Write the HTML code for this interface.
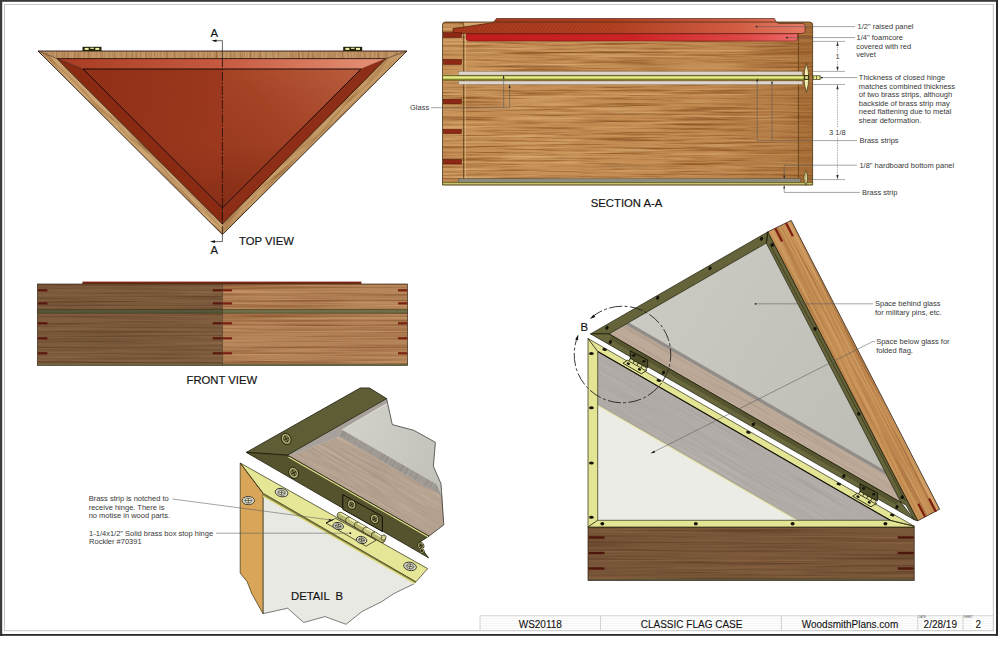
<!DOCTYPE html>
<html lang="en"><head><meta charset="utf-8"><title>Classic Flag Case - WS20118</title>
<style>
html,body{margin:0;padding:0;background:#fff;}
svg{display:block;}
text{font-family:"Liberation Sans",Arial,sans-serif;}
</style></head><body>
<svg width="1000" height="650" viewBox="0 0 1000 650">
<defs>
<linearGradient id="tvL" x1="83" y1="69" x2="222" y2="140" gradientUnits="userSpaceOnUse"><stop offset="0" stop-color="#8f2f16"/><stop offset="1" stop-color="#9e3a1f"/></linearGradient><linearGradient id="tvR" x1="222" y1="200" x2="361" y2="69" gradientUnits="userSpaceOnUse"><stop offset="0" stop-color="#97371c"/><stop offset="0.5" stop-color="#a54326"/><stop offset="1" stop-color="#ba5c3e"/></linearGradient><linearGradient id="tvT" x1="57" y1="0" x2="386" y2="0" gradientUnits="userSpaceOnUse"><stop offset="0" stop-color="#a83c22"/><stop offset="0.5" stop-color="#c65a40"/><stop offset="1" stop-color="#e59378"/></linearGradient><linearGradient id="tvD" x1="0" y1="69" x2="0" y2="208" gradientUnits="userSpaceOnUse"><stop offset="0" stop-color="#5a1406" stop-opacity="0"/><stop offset="0.55" stop-color="#5a1406" stop-opacity="0.04"/><stop offset="1" stop-color="#5a1406" stop-opacity="0.3"/></linearGradient><filter id="gV" x="0" y="0" width="100%" height="100%" color-interpolation-filters="sRGB"><feTurbulence type="fractalNoise" baseFrequency="0.5 0.02" numOctaves="3" seed="5" result="n"/><feColorMatrix in="n" type="matrix" values="0 0 0 0 0  0 0 0 0 0  0 0 0 0 0  1.8 0 0 0 -0.75" result="a"/><feFlood flood-color="#8a5a2a" result="c"/><feComposite in="c" in2="a" operator="in" result="st"/><feComposite in="st" in2="SourceGraphic" operator="atop"/></filter><filter id="gD1" x="0" y="0" width="100%" height="100%" color-interpolation-filters="sRGB"><feTurbulence type="fractalNoise" baseFrequency="0.03 0.45" numOctaves="3" seed="7" result="n"/><feColorMatrix in="n" type="matrix" values="0 0 0 0 0  0 0 0 0 0  0 0 0 0 0  1.9 0 0 0 -0.8" result="a"/><feFlood flood-color="#936232" result="c"/><feComposite in="c" in2="a" operator="in" result="st"/><feComposite in="st" in2="SourceGraphic" operator="atop"/></filter>
<filter id="gF1" x="0" y="0" width="100%" height="100%" color-interpolation-filters="sRGB"><feTurbulence type="fractalNoise" baseFrequency="0.006 0.45" numOctaves="3" seed="11" result="n"/><feColorMatrix in="n" type="matrix" values="0 0 0 0 0  0 0 0 0 0  0 0 0 0 0  1.7 0 0 0 -0.7" result="a"/><feFlood flood-color="#5a3c22" result="c"/><feComposite in="c" in2="a" operator="in" result="st"/><feColorMatrix in="n" type="matrix" values="0 0 0 0 0  0 0 0 0 0  0 0 0 0 0  0 1.5 0 0 -0.8" result="a2"/><feFlood flood-color="#a07850" result="c2"/><feComposite in="c2" in2="a2" operator="in" result="st2"/><feMerge result="m"><feMergeNode in="st"/><feMergeNode in="st2"/></feMerge><feComposite in="m" in2="SourceGraphic" operator="atop"/></filter><filter id="gF2" x="0" y="0" width="100%" height="100%" color-interpolation-filters="sRGB"><feTurbulence type="fractalNoise" baseFrequency="0.006 0.45" numOctaves="3" seed="13" result="n"/><feColorMatrix in="n" type="matrix" values="0 0 0 0 0  0 0 0 0 0  0 0 0 0 0  1.9 0 0 0 -0.75" result="a"/><feFlood flood-color="#85502c" result="c"/><feComposite in="c" in2="a" operator="in" result="st"/><feColorMatrix in="n" type="matrix" values="0 0 0 0 0  0 0 0 0 0  0 0 0 0 0  0 1.5 0 0 -0.75" result="a2"/><feFlood flood-color="#d8a878" result="c2"/><feComposite in="c2" in2="a2" operator="in" result="st2"/><feMerge result="m"><feMergeNode in="st"/><feMergeNode in="st2"/></feMerge><feComposite in="m" in2="SourceGraphic" operator="atop"/></filter>
<filter id="gS" x="0" y="0" width="100%" height="100%" color-interpolation-filters="sRGB"><feTurbulence type="fractalNoise" baseFrequency="0.012 0.5" numOctaves="3" seed="21" result="n"/><feColorMatrix in="n" type="matrix" values="0 0 0 0 0  0 0 0 0 0  0 0 0 0 0  2.3 0 0 0 -1.0" result="a"/><feFlood flood-color="#875020" result="c"/><feComposite in="c" in2="a" operator="in" result="st"/><feColorMatrix in="n" type="matrix" values="0 0 0 0 0  0 0 0 0 0  0 0 0 0 0  0 1.8 0 0 -0.85" result="a2"/><feFlood flood-color="#e2b880" result="c2"/><feComposite in="c2" in2="a2" operator="in" result="st2"/><feMerge result="m"><feMergeNode in="st"/><feMergeNode in="st2"/></feMerge><feComposite in="m" in2="SourceGraphic" operator="atop"/></filter><linearGradient id="secD" x1="442" y1="0" x2="813" y2="0" gradientUnits="userSpaceOnUse"><stop offset="0" stop-color="#f0d090" stop-opacity="0.0"/><stop offset="0.35" stop-color="#804010" stop-opacity="0"/><stop offset="0.75" stop-color="#804010" stop-opacity="0.1"/><stop offset="1" stop-color="#703408" stop-opacity="0.28"/></linearGradient><linearGradient id="rp" x1="453" y1="0" x2="805" y2="0" gradientUnits="userSpaceOnUse"><stop offset="0" stop-color="#a03418"/><stop offset="0.45" stop-color="#ac3a1c"/><stop offset="0.8" stop-color="#d05a40"/><stop offset="1" stop-color="#e67a66"/></linearGradient><linearGradient id="vel" x1="466" y1="0" x2="798" y2="0" gradientUnits="userSpaceOnUse"><stop offset="0" stop-color="#c01c1c"/><stop offset="0.5" stop-color="#cc2424"/><stop offset="0.85" stop-color="#e04848"/><stop offset="1" stop-color="#ee6a6a"/></linearGradient><pattern id="hatR" width="3" height="3" patternUnits="userSpaceOnUse" patternTransform="rotate(-55)"><line x1="0" y1="1.5" x2="3" y2="1.5" stroke="#d87858" stroke-width="0.5" stroke-opacity="0.35"/></pattern><pattern id="hatW" width="2.4" height="2.4" patternUnits="userSpaceOnUse" patternTransform="rotate(45)"><line x1="0" y1="1.2" x2="2.4" y2="1.2" stroke="#7a4a1e" stroke-width="0.45" stroke-opacity="0.55"/></pattern><pattern id="hatG" width="2" height="2" patternUnits="userSpaceOnUse" patternTransform="rotate(-45)"><line x1="0" y1="1" x2="2" y2="1" stroke="#b0a090" stroke-width="0.5"/></pattern>
<filter id="gDW" x="0" y="0" width="100%" height="100%" color-interpolation-filters="sRGB"><feTurbulence type="fractalNoise" baseFrequency="0.02 0.5" numOctaves="2" seed="4" result="n"/><feColorMatrix in="n" type="matrix" values="0 0 0 0 0  0 0 0 0 0  0 0 0 0 0  1.6 0 0 0 -0.75" result="a"/><feFlood flood-color="#98877a" result="c"/><feComposite in="c" in2="a" operator="in" result="st"/><feColorMatrix in="n" type="matrix" values="0 0 0 0 0  0 0 0 0 0  0 0 0 0 0  0 1.4 0 0 -0.7" result="a2"/><feFlood flood-color="#d2bca8" result="c2"/><feComposite in="c2" in2="a2" operator="in" result="st2"/><feMerge result="m"><feMergeNode in="st"/><feMergeNode in="st2"/></feMerge><feComposite in="m" in2="SourceGraphic" operator="atop"/></filter><filter id="gDG" x="0" y="0" width="100%" height="100%" color-interpolation-filters="sRGB"><feTurbulence type="fractalNoise" baseFrequency="0.6 0.02" numOctaves="2" seed="9" result="n"/><feColorMatrix in="n" type="matrix" values="0 0 0 0 0  0 0 0 0 0  0 0 0 0 0  1.6 0 0 0 -0.75" result="a"/><feFlood flood-color="#7e7872" result="c"/><feComposite in="c" in2="a" operator="in" result="st"/><feComposite in="st" in2="SourceGraphic" operator="atop"/></filter><linearGradient id="glassD" x1="340" y1="430" x2="440" y2="470" gradientUnits="userSpaceOnUse"><stop offset="0" stop-color="#d2d2cb"/><stop offset="1" stop-color="#c2c2ba"/></linearGradient>
<filter id="gIB" x="0" y="0" width="100%" height="100%" color-interpolation-filters="sRGB"><feTurbulence type="fractalNoise" baseFrequency="0.006 0.5" numOctaves="3" seed="31" result="n"/><feColorMatrix in="n" type="matrix" values="0 0 0 0 0  0 0 0 0 0  0 0 0 0 0  1.7 0 0 0 -0.72" result="a"/><feFlood flood-color="#553820" result="c"/><feComposite in="c" in2="a" operator="in" result="st"/><feColorMatrix in="n" type="matrix" values="0 0 0 0 0  0 0 0 0 0  0 0 0 0 0  0 1.5 0 0 -0.8" result="a2"/><feFlood flood-color="#9a7048" result="c2"/><feComposite in="c2" in2="a2" operator="in" result="st2"/><feMerge result="m"><feMergeNode in="st"/><feMergeNode in="st2"/></feMerge><feComposite in="m" in2="SourceGraphic" operator="atop"/></filter><filter id="gIL" x="0" y="0" width="100%" height="100%" color-interpolation-filters="sRGB"><feTurbulence type="fractalNoise" baseFrequency="0.006 0.45" numOctaves="3" seed="33" result="n"/><feColorMatrix in="n" type="matrix" values="0 0 0 0 0  0 0 0 0 0  0 0 0 0 0  2.0 0 0 0 -0.85" result="a"/><feFlood flood-color="#8e5426" result="c"/><feComposite in="c" in2="a" operator="in" result="st"/><feColorMatrix in="n" type="matrix" values="0 0 0 0 0  0 0 0 0 0  0 0 0 0 0  0 1.6 0 0 -0.75" result="a2"/><feFlood flood-color="#e4b880" result="c2"/><feComposite in="c2" in2="a2" operator="in" result="st2"/><feMerge result="m"><feMergeNode in="st"/><feMergeNode in="st2"/></feMerge><feComposite in="m" in2="SourceGraphic" operator="atop"/></filter><filter id="gIP" x="0" y="0" width="100%" height="100%" color-interpolation-filters="sRGB"><feTurbulence type="fractalNoise" baseFrequency="0.01 0.5" numOctaves="2" seed="35" result="n"/><feColorMatrix in="n" type="matrix" values="0 0 0 0 0  0 0 0 0 0  0 0 0 0 0  1.4 0 0 0 -0.75" result="a"/><feFlood flood-color="#98928e" result="c"/><feComposite in="c" in2="a" operator="in" result="st"/><feColorMatrix in="n" type="matrix" values="0 0 0 0 0  0 0 0 0 0  0 0 0 0 0  0 1.4 0 0 -0.75" result="a2"/><feFlood flood-color="#c8c4c0" result="c2"/><feComposite in="c2" in2="a2" operator="in" result="st2"/><feMerge result="m"><feMergeNode in="st"/><feMergeNode in="st2"/></feMerge><feComposite in="m" in2="SourceGraphic" operator="atop"/></filter><filter id="gIW" x="0" y="0" width="100%" height="100%" color-interpolation-filters="sRGB"><feTurbulence type="fractalNoise" baseFrequency="0.01 0.5" numOctaves="2" seed="37" result="n"/><feColorMatrix in="n" type="matrix" values="0 0 0 0 0  0 0 0 0 0  0 0 0 0 0  1.5 0 0 0 -0.75" result="a"/><feFlood flood-color="#9c8674" result="c"/><feComposite in="c" in2="a" operator="in" result="st"/><feComposite in="st" in2="SourceGraphic" operator="atop"/></filter><linearGradient id="glassI" x1="640" y1="320" x2="860" y2="460" gradientUnits="userSpaceOnUse"><stop offset="0" stop-color="#cacac3"/><stop offset="1" stop-color="#bebeb6"/></linearGradient>
</defs>
<rect x="4.5" y="4.5" width="988.8" height="626.2" fill="none" stroke="#c6c6c6" stroke-width="1.0"/>
<rect x="0.0" y="0.0" width="2.2" height="635.8" fill="#3a3a3a"/>
<rect x="0.0" y="0.0" width="998.0" height="1.8" fill="#3a3a3a"/>
<rect x="996.0" y="0.0" width="2.0" height="635.8" fill="#2a2a2a"/>
<rect x="0.0" y="634.0" width="998.0" height="1.8" fill="#2a2a2a"/>
<g filter="url(#gV)"><polygon points="38.0,51.0 407.0,51.0 386.0,58.6 57.0,58.6" fill="#c4986a"/></g>
<clipPath id="cpTL"><polygon points="38.0,51.0 57.0,58.6 222.4,224.0 222.4,234.6"/></clipPath><clipPath id="cpTR"><polygon points="407.0,51.0 386.0,58.6 222.4,224.0 222.4,234.6"/></clipPath>
<g clip-path="url(#cpTL)"><g transform="rotate(45 38 51)" filter="url(#gD1)"><rect x="30" y="36" width="280" height="17" fill="#cda571"/></g></g>
<g clip-path="url(#cpTR)"><g transform="rotate(135 407 51)" filter="url(#gD1)"><rect x="399" y="49" width="280" height="17" fill="#c69c68"/></g></g>
<polygon points="57.0,58.6 386.0,58.6 361.0,69.0 83.0,69.0" fill="url(#tvT)"/>
<polygon points="57.0,58.6 83.0,69.0 222.4,208.0 222.4,224.0" fill="#8a2a13"/>
<polygon points="386.0,58.6 361.0,69.0 222.4,208.0 222.4,224.0" fill="#8f2e16"/>
<polygon points="83.0,69.0 361.0,69.0 222.4,208.0" fill="#9c391e"/>
<polygon points="83.0,69.0 222.4,69.0 222.4,208.0" fill="url(#tvL)"/>
<polygon points="222.4,69.0 361.0,69.0 222.4,208.0" fill="url(#tvR)"/>
<polygon points="83.0,69.0 361.0,69.0 222.4,208.0" fill="url(#tvD)"/>
<polygon points="38.0,51.0 407.0,51.0 222.4,234.6" fill="none" stroke="#2a1a10" stroke-width="0.9" stroke-linejoin="round"/>
<polygon points="57.0,58.6 386.0,58.6 222.4,224.0" fill="none" stroke="#2a0e06" stroke-width="0.9" stroke-linejoin="round"/>
<polygon points="83.0,69.0 361.0,69.0 222.4,208.0" fill="none" stroke="#1a0a06" stroke-width="1.0" stroke-linejoin="round"/>
<line x1="38.0" y1="51.0" x2="57.0" y2="58.6" stroke="#3a2010" stroke-width="0.6"/>
<line x1="407.0" y1="51.0" x2="386.0" y2="58.6" stroke="#3a2010" stroke-width="0.6"/>
<line x1="57.0" y1="58.6" x2="83.0" y2="69.0" stroke="#3a1408" stroke-width="0.6"/>
<line x1="386.0" y1="58.6" x2="361.0" y2="69.0" stroke="#7a2a14" stroke-width="0.6"/>
<line x1="222.4" y1="208.0" x2="222.4" y2="224.0" stroke="#3a1408" stroke-width="0.6"/>
<rect x="82.5" y="46.8" width="19.0" height="4.2" fill="#20220a"/>
<rect x="84.7" y="47.9" width="4.0" height="2.0" fill="#f4f2a8"/>
<rect x="90.3" y="47.7" width="3.6" height="1.2" fill="#f4f2a8"/>
<rect x="95.3" y="47.9" width="4.0" height="2.0" fill="#f4f2a8"/>
<rect x="343.2" y="46.8" width="19.0" height="4.2" fill="#20220a"/>
<rect x="345.4" y="47.9" width="4.0" height="2.0" fill="#f4f2a8"/>
<rect x="351.0" y="47.7" width="3.6" height="1.2" fill="#f4f2a8"/>
<rect x="356.0" y="47.9" width="4.0" height="2.0" fill="#f4f2a8"/>
<path d="M213,40.7 H222.4 V58" fill="none" stroke="#222" stroke-width="0.7"/>
<path d="M222.4,58 V234" fill="none" stroke="#1e0a06" stroke-width="0.8" stroke-dasharray="9 1.5 2 1.5"/>
<polygon points="211.5,40.7 216.5,39.4 216.5,42.0" fill="#111"/>
<path d="M222.4,234.6 V241.6 H212" fill="none" stroke="#222" stroke-width="0.7"/>
<polygon points="210.0,241.6 215.0,240.3 215.0,242.9" fill="#111"/>
<text x="214.2" y="36.6" font-size="11.3" fill="#111" text-anchor="middle" style="white-space:pre" stroke="#111" stroke-width="0.15">A</text>
<text x="214.2" y="254.0" font-size="11.3" fill="#111" text-anchor="middle" style="white-space:pre" stroke="#111" stroke-width="0.15">A</text>
<text x="239.0" y="244.6" font-size="11.3" fill="#111" text-anchor="start" style="white-space:pre" stroke="#111" stroke-width="0.15">TOP VIEW</text>
<rect x="82.4" y="281.6" width="279.0" height="2.6" fill="#7a2412"/>
<g filter="url(#gF1)"><rect x="37.4" y="284.0" width="185.1" height="81.3" fill="#7e5c3e"/></g>
<g filter="url(#gF2)"><rect x="222.5" y="284.0" width="185.1" height="81.3" fill="#b58458"/></g>
<rect x="37.4" y="309.7" width="185.1" height="3.4" fill="#56573a"/>
<rect x="222.5" y="309.7" width="185.1" height="3.4" fill="#70714a"/>
<line x1="37.4" y1="309.6" x2="407.6" y2="309.6" stroke="#3a3418" stroke-width="0.6"/>
<line x1="37.4" y1="313.2" x2="407.6" y2="313.2" stroke="#3a3418" stroke-width="0.6"/>
<rect x="37.4" y="363.8" width="370.2" height="1.5" fill="#6a6a44"/>
<rect x="37.9" y="289.2" width="9.5" height="2.2" fill="#5a1810"/>
<rect x="212.7" y="289.2" width="9.8" height="2.2" fill="#5a1810"/>
<rect x="222.5" y="289.2" width="9.6" height="2.2" fill="#7a2012"/>
<rect x="398.0" y="289.2" width="9.2" height="2.2" fill="#7a2012"/>
<rect x="37.9" y="302.3" width="9.5" height="2.2" fill="#5a1810"/>
<rect x="212.7" y="302.3" width="9.8" height="2.2" fill="#5a1810"/>
<rect x="222.5" y="302.3" width="9.6" height="2.2" fill="#7a2012"/>
<rect x="398.0" y="302.3" width="9.2" height="2.2" fill="#7a2012"/>
<rect x="37.9" y="322.2" width="9.5" height="2.2" fill="#5a1810"/>
<rect x="212.7" y="322.2" width="9.8" height="2.2" fill="#5a1810"/>
<rect x="222.5" y="322.2" width="9.6" height="2.2" fill="#7a2012"/>
<rect x="398.0" y="322.2" width="9.2" height="2.2" fill="#7a2012"/>
<rect x="37.9" y="337.2" width="9.5" height="2.2" fill="#5a1810"/>
<rect x="212.7" y="337.2" width="9.8" height="2.2" fill="#5a1810"/>
<rect x="222.5" y="337.2" width="9.6" height="2.2" fill="#7a2012"/>
<rect x="398.0" y="337.2" width="9.2" height="2.2" fill="#7a2012"/>
<rect x="37.9" y="352.2" width="9.5" height="2.2" fill="#5a1810"/>
<rect x="212.7" y="352.2" width="9.8" height="2.2" fill="#5a1810"/>
<rect x="222.5" y="352.2" width="9.6" height="2.2" fill="#7a2012"/>
<rect x="398.0" y="352.2" width="9.2" height="2.2" fill="#7a2012"/>
<rect x="37.4" y="284.0" width="370.2" height="81.3" fill="none" stroke="#3a2a1a" stroke-width="0.7"/>
<line x1="222.5" y1="284.0" x2="222.5" y2="365.3" stroke="#4a3420" stroke-width="0.7"/>
<text x="186.5" y="384.2" font-size="11.3" fill="#111" text-anchor="start" style="white-space:pre" stroke="#111" stroke-width="0.15">FRONT VIEW</text>
<g filter="url(#gS)"><path d="M442.5,185.0 V25.0 Q442.5,22.0 445.5,22.0 H809.6 Q812.6,22.0 812.6,25.0 V185.0 Z" fill="#c68f55"/></g>
<path d="M442.5,185.0 V25.0 Q442.5,22.0 445.5,22.0 H809.6 Q812.6,22.0 812.6,25.0 V185.0 Z" fill="url(#secD)"/>
<rect x="442.5" y="23.0" width="20.5" height="162.0" fill="#d8a870" stroke="none" stroke-width="0" fill-opacity="0.15"/>
<rect x="798.6" y="23.0" width="14.0" height="162.0" fill="#a86a30" stroke="none" stroke-width="0" fill-opacity="0.3"/>
<rect x="798.6" y="23.0" width="14.0" height="162.0" fill="url(#hatW)"/>
<polygon points="464.0,22.6 492.0,22.6 492.5,22.6 464.0,27.2" fill="#d6aa72"/>
<path d="M459.5,22.3 Q463.6,22.6 464.2,27" fill="none" stroke="#5a3a12" stroke-width="0.7"/>
<polygon points="453.0,28.6 464.0,27.0 491.0,22.9 493.5,22.2 496.5,18.5 774.5,18.5 776.0,21.8 778.5,23.4 803.0,23.4 805.2,25.4 805.2,31.6 803.0,33.5 454.5,33.5 453.0,32.0" fill="url(#rp)"/>
<polygon points="453.0,28.6 464.0,27.0 491.0,22.9 493.5,22.2 496.5,18.5 774.5,18.5 776.0,21.8 778.5,23.4 803.0,23.4 805.2,25.4 805.2,31.6 803.0,33.5 454.5,33.5 453.0,32.0" fill="url(#hatR)" stroke="#3a1408" stroke-width="0.6" stroke-linejoin="round"/>
<path d="M466,33.8 H797.6 V38 Q797.6,41 794.6,41 H469.5 Q466,41 466,37.5 Z" fill="url(#vel)" stroke="#6a1010" stroke-width="0.5"/>
<line x1="463.8" y1="33.5" x2="463.8" y2="183.0" stroke="#5a3a12" stroke-width="1.0"/>
<line x1="465.2" y1="33.5" x2="465.2" y2="183.0" stroke="#e8c890" stroke-width="0.7"/>
<line x1="798.4" y1="33.5" x2="798.4" y2="183.0" stroke="#5a3a12" stroke-width="0.8"/>
<rect x="458.5" y="71.4" width="344.0" height="4.0" fill="#ece6e0" stroke="#6a5a40" stroke-width="0.4"/>
<rect x="458.5" y="71.4" width="344.0" height="4.0" fill="url(#hatG)"/>
<rect x="442.8" y="75.4" width="363.0" height="4.8" fill="#8a9026"/>
<rect x="442.8" y="76.3" width="363.0" height="2.3" fill="#e9e98e"/>
<line x1="442.8" y1="75.4" x2="806.0" y2="75.4" stroke="#3a3a10" stroke-width="0.5"/>
<line x1="442.8" y1="80.2" x2="806.0" y2="80.2" stroke="#3a3a10" stroke-width="0.5"/>
<rect x="458.5" y="81.0" width="344.0" height="3.5" fill="#ece6e0" stroke="#6a5a40" stroke-width="0.4"/>
<rect x="458.5" y="81.0" width="344.0" height="3.5" fill="url(#hatG)"/>
<rect x="458.5" y="178.6" width="342.0" height="3.9" fill="#8c8a7c" stroke="#4a4a3a" stroke-width="0.4"/>
<rect x="442.5" y="182.5" width="370.1" height="2.7" fill="#aaa64a"/>
<line x1="442.5" y1="182.5" x2="812.6" y2="182.5" stroke="#4a4a1a" stroke-width="0.5"/>
<line x1="442.5" y1="183.8" x2="812.6" y2="183.8" stroke="#ece890" stroke-width="0.6"/>
<rect x="443.4" y="32.6" width="18.0" height="4.6" fill="#8e2814" stroke="#50120a" stroke-width="0.5"/>
<rect x="443.4" y="59.6" width="18.0" height="4.8" fill="#8e2814" stroke="#50120a" stroke-width="0.5"/>
<rect x="443.4" y="99.2" width="18.0" height="4.4" fill="#8e2814" stroke="#50120a" stroke-width="0.5"/>
<rect x="443.4" y="129.4" width="18.0" height="4.2" fill="#8e2814" stroke="#50120a" stroke-width="0.5"/>
<rect x="443.4" y="159.6" width="18.0" height="4.4" fill="#8e2814" stroke="#50120a" stroke-width="0.5"/>
<path d="M442.5,185.0 V25.0 Q442.5,22.0 445.5,22.0 H809.6 Q812.6,22.0 812.6,25.0 V185.0 Z" fill="none" stroke="#4a3418" stroke-width="0.8"/>
<path d="M806.4,63.4 Q811.2,77.8 806.4,92.2 Q801.6,77.8 806.4,63.4 Z" fill="#f2ecb0" stroke="#2a2a0a" stroke-width="0.6"/>
<rect x="804.0" y="75.0" width="5.0" height="5.0" fill="#3a3a12"/>
<rect x="805.0" y="76.2" width="3.0" height="2.6" fill="#d8d488"/>
<rect x="812.6" y="75.4" width="8.0" height="4.4" fill="#4a4a1a"/>
<rect x="813.6" y="76.2" width="2.6" height="2.8" fill="#eeea90"/>
<rect x="817.0" y="76.2" width="2.6" height="2.8" fill="#eeea90"/>
<path d="M805.8,170.6 Q809.4,178.0 805.8,185.4 Q802.2,178.0 805.8,170.6 Z" fill="#f2ecb0" stroke="#2a2a0a" stroke-width="0.6"/>
<line x1="805.8" y1="173.0" x2="805.8" y2="184.0" stroke="#5a5a20" stroke-width="0.5"/>
<line x1="813.0" y1="41.4" x2="845.0" y2="41.4" stroke="#5a5a5a" stroke-width="0.5"/>
<line x1="813.0" y1="71.4" x2="845.0" y2="71.4" stroke="#5a5a5a" stroke-width="0.5"/>
<line x1="813.0" y1="84.5" x2="845.0" y2="84.5" stroke="#5a5a5a" stroke-width="0.5"/>
<line x1="808.0" y1="179.6" x2="845.0" y2="179.6" stroke="#5a5a5a" stroke-width="0.5"/>
<line x1="837.5" y1="42.0" x2="837.5" y2="71.0" stroke="#5a5a5a" stroke-width="0.5" stroke-dasharray="1.4 1"/>
<line x1="837.5" y1="85.0" x2="837.5" y2="179.0" stroke="#5a5a5a" stroke-width="0.5" stroke-dasharray="1.4 1"/>
<polygon points="837.5,41.6 836.3,46.1 838.7,46.1" fill="#333"/>
<polygon points="837.5,71.2 836.3,66.7 838.7,66.7" fill="#333"/>
<polygon points="837.5,84.7 836.3,89.2 838.7,89.2" fill="#333"/>
<polygon points="837.5,179.4 836.3,174.9 838.7,174.9" fill="#333"/>
<rect x="833.0" y="52.5" width="9.0" height="8.5" fill="#fff"/>
<text x="837.5" y="59.3" font-size="7.5" fill="#3a3a3a" text-anchor="middle" style="white-space:pre">1</text>
<rect x="826.0" y="127.0" width="23.0" height="9.5" fill="#fff"/>
<text x="837.3" y="134.8" font-size="7.5" fill="#3a3a3a" text-anchor="middle" style="white-space:pre">3 1/8</text>
<line x1="756.5" y1="26.6" x2="855.0" y2="26.6" stroke="#5a5a5a" stroke-width="0.55"/>
<circle cx="756.5" cy="26.6" r="0.9" fill="#222"/>
<text x="857.5" y="29.3" font-size="7.5" fill="#383838" text-anchor="start" style="white-space:pre">1/2" raised panel</text>
<line x1="787.0" y1="37.6" x2="855.0" y2="37.6" stroke="#5a5a5a" stroke-width="0.55"/>
<circle cx="787" cy="37.6" r="0.9" fill="#222"/>
<text x="856.6" y="40.2" font-size="7.5" fill="#383838" text-anchor="start" style="white-space:pre">1/4" foamcore</text>
<text x="856.2" y="48.6" font-size="7.5" fill="#383838" text-anchor="start" style="white-space:pre">covered with red</text>
<text x="856.2" y="57.0" font-size="7.5" fill="#383838" text-anchor="start" style="white-space:pre">velvet</text>
<line x1="821.5" y1="77.6" x2="857.0" y2="77.6" stroke="#5a5a5a" stroke-width="0.55"/>
<circle cx="821.8" cy="77.6" r="0.9" fill="#222"/>
<text x="858.8" y="80.1" font-size="7.5" fill="#383838" text-anchor="start" style="white-space:pre">Thickness of closed hinge</text>
<text x="858.8" y="88.6" font-size="7.5" fill="#383838" text-anchor="start" style="white-space:pre">matches combined thickness</text>
<text x="858.8" y="97.2" font-size="7.5" fill="#383838" text-anchor="start" style="white-space:pre">of two brass strips, although</text>
<text x="858.8" y="105.8" font-size="7.5" fill="#383838" text-anchor="start" style="white-space:pre">backside of brass strip may</text>
<text x="858.8" y="114.3" font-size="7.5" fill="#383838" text-anchor="start" style="white-space:pre">need flattening due to metal</text>
<text x="858.8" y="122.8" font-size="7.5" fill="#383838" text-anchor="start" style="white-space:pre">shear deformation.</text>
<path d="M757.2,79 V140.6 H857" fill="none" stroke="#5a5a5a" stroke-width="0.55"/>
<path d="M772,81.5 V140.6" fill="none" stroke="#5a5a5a" stroke-width="0.55"/>
<polygon points="757.2,78.0 756.3,81.5 758.1,81.5" fill="#222"/>
<polygon points="772.0,80.4 771.1,83.8 772.9,83.8" fill="#222"/>
<text x="859.4" y="143.3" font-size="7.5" fill="#383838" text-anchor="start" style="white-space:pre">Brass strips</text>
<path d="M784.2,178.6 V165.2 H857" fill="none" stroke="#5a5a5a" stroke-width="0.55"/>
<polygon points="784.2,178.8 783.3,175.4 785.1,175.4" fill="#222"/>
<text x="859.4" y="167.9" font-size="7.5" fill="#383838" text-anchor="start" style="white-space:pre">1/8" hardboard bottom panel</text>
<path d="M784.2,185.4 V192.4 H860" fill="none" stroke="#5a5a5a" stroke-width="0.55"/>
<polygon points="784.2,185.2 783.3,188.6 785.1,188.6" fill="#222"/>
<text x="862.0" y="195.0" font-size="7.5" fill="#383838" text-anchor="start" style="white-space:pre">Brass strip</text>
<path d="M431,107.7 H509.6 V85" fill="none" stroke="#5a5a5a" stroke-width="0.55"/>
<path d="M503.6,107.7 V76" fill="none" stroke="#5a5a5a" stroke-width="0.55"/>
<polygon points="503.6,75.0 502.7,78.4 504.5,78.4" fill="#222"/>
<polygon points="509.6,84.6 508.7,88.0 510.5,88.0" fill="#222"/>
<text x="410.0" y="110.4" font-size="7.5" fill="#383838" text-anchor="start" style="white-space:pre">Glass</text>
<text x="590.8" y="206.6" font-size="11.3" fill="#111" text-anchor="start" style="white-space:pre" stroke="#111" stroke-width="0.15">SECTION A-A</text>
<clipPath id="cpW"><polygon points="287.3,455.2 290.5,455.6 339.2,436.6 442.2,496.1 443.8,524.8 428.9,536.2"/></clipPath>
<polygon points="287.3,455.2 386.6,398.6 392.3,424.6 413.8,430.3 435.4,442.3 433.4,466.2 441.0,483.8 443.8,524.8 428.9,536.2" fill="url(#glassD)"/>
<g clip-path="url(#cpW)"><g transform="rotate(30 287 455)" filter="url(#gDW)"><rect x="270" y="380" width="230" height="90" fill="#b6a290"/></g></g>
<clipPath id="cpG"><polygon points="342.0,429.7 436.5,484.3 441.7,495.8 339.2,436.6"/></clipPath>
<g clip-path="url(#cpG)"><g transform="rotate(30 342 430)" filter="url(#gDG)"><rect x="320" y="410" width="180" height="50" fill="#a29c96"/></g></g>
<polygon points="287.3,455.2 386.6,398.6 387.4,402.6 342.0,429.7 339.2,436.6 290.5,455.6" fill="#a8a09a"/>
<line x1="342.0" y1="429.7" x2="385.6" y2="404.5" stroke="#e4e4de" stroke-width="0.6"/>
<polyline points="386.6,398.6 392.3,424.6 413.8,430.3 435.4,442.3 433.4,466.2 441.0,483.8 443.8,524.8 428.9,536.2" fill="none" stroke="#2a2a2a" stroke-width="0.7"/>
<polygon points="246.3,452.4 360.3,387.9 369.5,388.0 386.6,398.6 287.3,455.2" fill="#5f5d35" stroke="#1a1a08" stroke-width="0.8" stroke-linejoin="round"/>
<polygon points="246.3,452.4 287.3,455.2 428.9,536.2 417.6,543.4 428.6,557.8" fill="#55532e" stroke="#1a1a08" stroke-width="0.8" stroke-linejoin="round"/>
<line x1="288.6" y1="456.8" x2="428.0" y2="536.6" stroke="#e6e690" stroke-width="1.5"/>
<line x1="287.3" y1="455.2" x2="428.9" y2="536.2" stroke="#1a1a08" stroke-width="0.7"/>
<g transform="translate(286.2 438.9) rotate(62)"><ellipse rx="5.9" ry="4.7" fill="#8f8c56" stroke="#1e1e0a" stroke-width="0.8"/><ellipse rx="4.2" ry="3.4" fill="none" stroke="#c4c28a" stroke-width="0.9"/><ellipse rx="3.2" ry="2.6" fill="none" stroke="#1e1e0a" stroke-width="0.5"/><path d="M-3.5,0 H3.5 M0,-2.8 V2.8" stroke="#2a2a10" stroke-width="0.9"/></g>
<g transform="translate(293.6 472.8) rotate(62)"><ellipse rx="5.9" ry="4.7" fill="#8f8c56" stroke="#1e1e0a" stroke-width="0.8"/><ellipse rx="4.2" ry="3.4" fill="none" stroke="#c4c28a" stroke-width="0.9"/><ellipse rx="3.2" ry="2.6" fill="none" stroke="#1e1e0a" stroke-width="0.5"/><path d="M-3.5,0 H3.5 M0,-2.8 V2.8" stroke="#2a2a10" stroke-width="0.9"/></g>
<g transform="translate(420.8 545.6) rotate(62)"><ellipse rx="3.6" ry="3.0" fill="#8f8c56" stroke="#1e1e0a" stroke-width="0.8"/><ellipse rx="2.6" ry="2.2" fill="none" stroke="#c4c28a" stroke-width="0.9"/><ellipse rx="2.0" ry="1.7" fill="none" stroke="#1e1e0a" stroke-width="0.5"/><path d="M-2.2,0 H2.2 M0,-1.8 V1.8" stroke="#2a2a10" stroke-width="0.9"/></g>
<g transform="translate(421.8 550.8) rotate(62)"><ellipse rx="2.8" ry="2.2" fill="#8f8c56" stroke="#1e1e0a" stroke-width="0.8"/><ellipse rx="2.0" ry="1.6" fill="none" stroke="#c4c28a" stroke-width="0.9"/><ellipse rx="1.5" ry="1.2" fill="none" stroke="#1e1e0a" stroke-width="0.5"/><path d="M-1.7,0 H1.7 M0,-1.3 V1.3" stroke="#2a2a10" stroke-width="0.9"/></g>
<polygon points="263.0,493.2 416.0,581.8 413.7,584.0 394.0,593.5 381.8,601.6 362.0,611.5 346.0,624.3 325.0,616.6 303.7,622.5 287.6,608.2 263.0,613.7" fill="#e9e9e3" stroke="#2a2a2a" stroke-width="0.6" stroke-linejoin="round"/>
<polygon points="240.2,463.0 263.0,493.2 263.0,613.7 252.0,594.0 247.2,581.8 240.2,573.0" fill="#d9a659" stroke="#3a3010" stroke-width="0.7" stroke-linejoin="round"/>
<polygon points="263.0,493.2 416.0,581.8 414.6,583.6 263.0,496.2" fill="#8a8840"/>
<polygon points="263.0,495.4 415.2,583.0 414.4,584.2 263.0,497.0" fill="#e2e08e"/>
<polygon points="240.2,463.0 427.6,568.6 416.0,581.8 263.0,493.2" fill="#e6e697" stroke="#2a2a10" stroke-width="0.7" stroke-linejoin="round"/>
<line x1="240.2" y1="463.0" x2="263.0" y2="493.2" stroke="#3a3010" stroke-width="0.6"/>
<polygon points="326.0,523.0 335.6,518.4 376.2,540.2 366.0,546.2" fill="#eaea9e" stroke="#1a1a08" stroke-width="0.7" stroke-linejoin="round"/>
<polygon points="342.8,494.6 382.4,516.4 382.4,531.6 342.8,509.4" fill="#55532e" stroke="#0a0a04" stroke-width="0.9" stroke-linejoin="round"/>
<line x1="340.2" y1="515.2" x2="347.9" y2="519.7" stroke="#2a2a10" stroke-width="6.6" stroke-linecap="round"/>
<line x1="340.2" y1="515.2" x2="347.9" y2="519.7" stroke="#b7b56e" stroke-width="5.4" stroke-linecap="round"/>
<line x1="341.0" y1="513.6" x2="348.7" y2="518.1" stroke="#f2f2c0" stroke-width="1.6" stroke-linecap="round"/>
<line x1="348.8" y1="520.2" x2="356.5" y2="524.6" stroke="#2a2a10" stroke-width="6.6" stroke-linecap="round"/>
<line x1="348.8" y1="520.2" x2="356.5" y2="524.6" stroke="#c6c47e" stroke-width="5.4" stroke-linecap="round"/>
<line x1="349.6" y1="518.6" x2="357.3" y2="523.0" stroke="#f2f2c0" stroke-width="1.6" stroke-linecap="round"/>
<line x1="357.3" y1="525.1" x2="365.1" y2="529.6" stroke="#2a2a10" stroke-width="6.6" stroke-linecap="round"/>
<line x1="357.3" y1="525.1" x2="365.1" y2="529.6" stroke="#b7b56e" stroke-width="5.4" stroke-linecap="round"/>
<line x1="358.1" y1="523.5" x2="365.9" y2="528.0" stroke="#f2f2c0" stroke-width="1.6" stroke-linecap="round"/>
<line x1="365.9" y1="530.1" x2="373.6" y2="534.5" stroke="#2a2a10" stroke-width="6.6" stroke-linecap="round"/>
<line x1="365.9" y1="530.1" x2="373.6" y2="534.5" stroke="#c6c47e" stroke-width="5.4" stroke-linecap="round"/>
<line x1="366.7" y1="528.5" x2="374.4" y2="532.9" stroke="#f2f2c0" stroke-width="1.6" stroke-linecap="round"/>
<line x1="374.5" y1="535.0" x2="382.2" y2="539.5" stroke="#2a2a10" stroke-width="6.6" stroke-linecap="round"/>
<line x1="374.5" y1="535.0" x2="382.2" y2="539.5" stroke="#b7b56e" stroke-width="5.4" stroke-linecap="round"/>
<line x1="375.3" y1="533.4" x2="383.0" y2="537.9" stroke="#f2f2c0" stroke-width="1.6" stroke-linecap="round"/>
<ellipse cx="383.6" cy="537.6" rx="2.2" ry="2.8" fill="#d6d490" stroke="#2a2a10" stroke-width="0.7" transform="rotate(30 383.6 537.6)"/>
<g transform="translate(351.6 504.6) rotate(62)"><ellipse rx="4.9" ry="4.0" fill="#8f8c56" stroke="#1e1e0a" stroke-width="0.8"/><ellipse rx="3.5" ry="2.9" fill="none" stroke="#c4c28a" stroke-width="0.9"/><ellipse rx="2.7" ry="2.2" fill="none" stroke="#1e1e0a" stroke-width="0.5"/><path d="M-2.9,0 H2.9 M0,-2.4 V2.4" stroke="#2a2a10" stroke-width="0.9"/></g>
<g transform="translate(374.6 519.0) rotate(62)"><ellipse rx="4.9" ry="4.0" fill="#8f8c56" stroke="#1e1e0a" stroke-width="0.8"/><ellipse rx="3.5" ry="2.9" fill="none" stroke="#c4c28a" stroke-width="0.9"/><ellipse rx="2.7" ry="2.2" fill="none" stroke="#1e1e0a" stroke-width="0.5"/><path d="M-2.9,0 H2.9 M0,-2.4 V2.4" stroke="#2a2a10" stroke-width="0.9"/></g>
<g transform="translate(248.3 500.6) rotate(0)"><ellipse rx="6.2" ry="4.1" fill="#f4f4ea" stroke="#1a1a10" stroke-width="0.8"/><ellipse rx="4.5" ry="3.0" fill="none" stroke="#b0b0a0" stroke-width="0.9"/><ellipse rx="3.4" ry="2.3" fill="none" stroke="#1a1a10" stroke-width="0.5"/><path d="M-3.7,0 H3.7 M0,-2.5 V2.5" stroke="#55553a" stroke-width="0.9"/></g>
<g transform="translate(281.6 492.6) rotate(12)"><ellipse rx="6.4" ry="4.1" fill="#f4f4ea" stroke="#1a1a10" stroke-width="0.8"/><ellipse rx="4.6" ry="3.0" fill="none" stroke="#b0b0a0" stroke-width="0.9"/><ellipse rx="3.5" ry="2.3" fill="none" stroke="#1a1a10" stroke-width="0.5"/><path d="M-3.8,0 H3.8 M0,-2.5 V2.5" stroke="#55553a" stroke-width="0.9"/></g>
<g transform="translate(338.2 526.0) rotate(12)"><ellipse rx="5.3" ry="3.5" fill="#f4f4ea" stroke="#1a1a10" stroke-width="0.8"/><ellipse rx="3.8" ry="2.5" fill="none" stroke="#b0b0a0" stroke-width="0.9"/><ellipse rx="2.9" ry="1.9" fill="none" stroke="#1a1a10" stroke-width="0.5"/><path d="M-3.2,0 H3.2 M0,-2.1 V2.1" stroke="#55553a" stroke-width="0.9"/></g>
<g transform="translate(361.6 540.0) rotate(12)"><ellipse rx="5.3" ry="3.5" fill="#f4f4ea" stroke="#1a1a10" stroke-width="0.8"/><ellipse rx="3.8" ry="2.5" fill="none" stroke="#b0b0a0" stroke-width="0.9"/><ellipse rx="2.9" ry="1.9" fill="none" stroke="#1a1a10" stroke-width="0.5"/><path d="M-3.2,0 H3.2 M0,-2.1 V2.1" stroke="#55553a" stroke-width="0.9"/></g>
<g transform="translate(410.0 566.4) rotate(12)"><ellipse rx="6.4" ry="4.1" fill="#f4f4ea" stroke="#1a1a10" stroke-width="0.8"/><ellipse rx="4.6" ry="3.0" fill="none" stroke="#b0b0a0" stroke-width="0.9"/><ellipse rx="3.5" ry="2.3" fill="none" stroke="#1a1a10" stroke-width="0.5"/><path d="M-3.8,0 H3.8 M0,-2.5 V2.5" stroke="#55553a" stroke-width="0.9"/></g>
<line x1="172.5" y1="499.0" x2="331.0" y2="520.0" stroke="#5a5a5a" stroke-width="0.55"/>
<polygon points="333.0,520.4 328.6,520.8 329.0,518.8" fill="#222"/>
<path d="M326,523 l7,-3.4" stroke="#111" stroke-width="0.9"/>
<line x1="216.0" y1="533.2" x2="350.0" y2="533.2" stroke="#5a5a5a" stroke-width="0.55"/>
<circle cx="350.4" cy="533.2" r="0.9" fill="#222"/>
<text x="88.7" y="501.2" font-size="7.5" fill="#383838" text-anchor="start" style="white-space:pre">Brass strip is notched to</text>
<text x="88.7" y="509.6" font-size="7.5" fill="#383838" text-anchor="start" style="white-space:pre">receive hinge. There is</text>
<text x="88.7" y="517.9" font-size="7.5" fill="#383838" text-anchor="start" style="white-space:pre">no motise in wood parts.</text>
<text x="89.1" y="535.5" font-size="7.5" fill="#383838" text-anchor="start" style="white-space:pre">1-1/4x1/2" Solid brass box stop hinge</text>
<text x="89.1" y="543.9" font-size="7.5" fill="#383838" text-anchor="start" style="white-space:pre">Rockler #70391</text>
<text x="291.0" y="600.0" font-size="11.3" fill="#111" text-anchor="start" style="white-space:pre" stroke="#111" stroke-width="0.15">DETAIL  B</text>
<g filter="url(#gIB)"><rect x="588.0" y="527.0" width="326.2" height="53.3" fill="#7a573a"/></g>
<rect x="588.0" y="579.0" width="326.2" height="1.4" fill="#5a5a3a"/>
<rect x="588.0" y="527.0" width="326.2" height="53.3" fill="none" stroke="#2e2014" stroke-width="0.7"/>
<rect x="588.5" y="536.3" width="16.0" height="2.4" fill="#4e160c"/>
<rect x="897.7" y="536.3" width="16.0" height="2.4" fill="#4e160c"/>
<rect x="588.5" y="551.8" width="16.0" height="2.4" fill="#4e160c"/>
<rect x="897.7" y="551.8" width="16.0" height="2.4" fill="#4e160c"/>
<rect x="588.5" y="567.3" width="16.0" height="2.4" fill="#4e160c"/>
<rect x="897.7" y="567.3" width="16.0" height="2.4" fill="#4e160c"/>
<polygon points="597.7,351.4 597.7,520.3 890.2,520.3" fill="#ecece6"/>
<clipPath id="cpIP"><polygon points="597.7,351.4 597.7,404.4 798.4,520.3 890.2,520.3"/></clipPath>
<g clip-path="url(#cpIP)"><g transform="rotate(30 597.7 352.3)" filter="url(#gIP)"><rect x="590" y="350" width="360" height="50" fill="#b1aba7"/></g></g>
<line x1="597.7" y1="405.4" x2="796.8" y2="520.3" stroke="#e8e6a8" stroke-width="1.2"/>
<line x1="597.7" y1="404.4" x2="798.4" y2="520.3" stroke="#8a8870" stroke-width="0.5"/>
<polygon points="588.0,338.5 597.7,351.4 597.7,520.3 588.0,527.0" fill="#e4e495" stroke="#2a2a10" stroke-width="0.7" stroke-linejoin="round"/>
<polygon points="588.0,527.0 597.7,520.3 890.2,520.3 914.2,526.2 914.2,527.0" fill="#e4e495" stroke="#2a2a10" stroke-width="0.7" stroke-linejoin="round"/>
<polygon points="588.0,338.5 914.2,526.2 890.2,520.3 597.7,351.4" fill="#e4e495" stroke="#2a2a10" stroke-width="0.7" stroke-linejoin="round"/>
<line x1="597.7" y1="351.4" x2="890.2" y2="520.3" stroke="#15150a" stroke-width="1.1"/>
<line x1="890.2" y1="520.3" x2="914.2" y2="526.2" stroke="#2a2a10" stroke-width="0.6"/>
<polygon points="609.0,333.9 766.3,243.1 901.0,502.5" fill="url(#glassI)"/>
<clipPath id="cpIW"><polygon points="609.0,333.9 625.3,324.5 887.0,475.6 901.0,502.5"/></clipPath>
<g clip-path="url(#cpIW)"><g transform="rotate(30 609 333.9)" filter="url(#gIW)"><rect x="600" y="300" width="360" height="34.5" fill="#bdaa99"/></g></g>
<polygon points="628.8,322.5 884.1,469.9 887.0,475.6 625.3,324.5" fill="#938d88"/>
<clipPath id="cpIL"><polygon points="767.7,231.9 791.2,220.4 939.6,509.2 917.7,520.8"/></clipPath>
<g clip-path="url(#cpIL)"><g transform="rotate(62.56 767.7 231.9)" filter="url(#gIL)"><rect x="762.7" y="199.9" width="340" height="40" fill="#c89256"/></g></g>
<polygon points="767.7,231.9 791.2,220.4 939.6,509.2 917.7,520.8" fill="none" stroke="#2e2014" stroke-width="0.8" stroke-linejoin="round"/>
<line x1="775.2" y1="228.2" x2="782.1" y2="241.5" stroke="#7e1c10" stroke-width="2.2"/>
<line x1="925.2" y1="517.1" x2="918.3" y2="503.8" stroke="#7e1c10" stroke-width="2.2"/>
<line x1="786.0" y1="222.9" x2="792.9" y2="236.2" stroke="#7e1c10" stroke-width="2.2"/>
<line x1="936.0" y1="511.8" x2="929.1" y2="498.5" stroke="#7e1c10" stroke-width="2.2"/>
<polygon points="767.7,231.9 917.7,520.8 914.2,519.8 906.0,505.0 901.0,502.5 766.3,243.1" fill="#64633a" stroke="#1c1c0a" stroke-width="0.7" stroke-linejoin="round"/>
<polygon points="590.6,333.9 767.7,231.9 766.3,243.1 609.0,333.9" fill="#64633a" stroke="#1c1c0a" stroke-width="0.7" stroke-linejoin="round"/>
<polygon points="590.6,333.9 609.0,333.9 901.0,502.5 914.2,519.8" fill="#69683d" stroke="#1c1c0a" stroke-width="0.7" stroke-linejoin="round"/>
<line x1="610.7" y1="337.5" x2="897.5" y2="503.1" stroke="#56552f" stroke-width="4.2"/>
<line x1="609.0" y1="333.9" x2="901.0" y2="502.5" stroke="#1c1c0a" stroke-width="0.7"/>
<line x1="769.7" y1="244.1" x2="905.4" y2="501.0" stroke="#3c3c1c" stroke-width="0.9"/>
<line x1="767.7" y1="231.9" x2="766.3" y2="243.1" stroke="#1c1c0a" stroke-width="0.6"/>
<polygon points="630.3,350.8 647.7,360.0 647.7,367.8 630.3,359.2" fill="#4e4d2a" stroke="#0c0c04" stroke-width="0.8" stroke-linejoin="round"/><polygon points="623.0,363.2 627.7,360.2 646.9,370.4 641.3,373.8" fill="#e4e495" stroke="#15150a" stroke-width="0.8" stroke-linejoin="round"/><line x1="630.7" y1="360.4" x2="633.0" y2="361.7" stroke="#1a1a0a" stroke-width="3.6" stroke-linecap="round"/><line x1="630.7" y1="360.4" x2="633.0" y2="361.7" stroke="#dcdc96" stroke-width="2.4" stroke-linecap="round"/><line x1="634.7" y1="362.7" x2="636.9" y2="364.0" stroke="#1a1a0a" stroke-width="3.6" stroke-linecap="round"/><line x1="634.7" y1="362.7" x2="636.9" y2="364.0" stroke="#dcdc96" stroke-width="2.4" stroke-linecap="round"/><line x1="638.7" y1="365.0" x2="640.9" y2="366.3" stroke="#1a1a0a" stroke-width="3.6" stroke-linecap="round"/><line x1="638.7" y1="365.0" x2="640.9" y2="366.3" stroke="#dcdc96" stroke-width="2.4" stroke-linecap="round"/><line x1="642.7" y1="367.3" x2="644.9" y2="368.6" stroke="#1a1a0a" stroke-width="3.6" stroke-linecap="round"/><line x1="642.7" y1="367.3" x2="644.9" y2="368.6" stroke="#dcdc96" stroke-width="2.4" stroke-linecap="round"/><ellipse cx="633.9" cy="355.4" rx="1.6" ry="1.3" fill="#14140a" transform="rotate(0 633.9 355.4)"/><ellipse cx="643.9" cy="361.2" rx="1.6" ry="1.3" fill="#14140a" transform="rotate(0 643.9 361.2)"/><ellipse cx="628.3" cy="363.6" rx="1.7" ry="1.2" fill="#14140a" transform="rotate(20 628.3 363.6)"/><ellipse cx="639.5" cy="369.4" rx="1.7" ry="1.2" fill="#14140a" transform="rotate(20 639.5 369.4)"/>
<polygon points="860.0,483.8 877.4,493.0 877.4,500.8 860.0,492.2" fill="#4e4d2a" stroke="#0c0c04" stroke-width="0.8" stroke-linejoin="round"/><polygon points="852.7,496.2 857.4,493.2 876.6,503.4 871.0,506.8" fill="#e4e495" stroke="#15150a" stroke-width="0.8" stroke-linejoin="round"/><line x1="860.4" y1="493.4" x2="862.7" y2="494.7" stroke="#1a1a0a" stroke-width="3.6" stroke-linecap="round"/><line x1="860.4" y1="493.4" x2="862.7" y2="494.7" stroke="#dcdc96" stroke-width="2.4" stroke-linecap="round"/><line x1="864.4" y1="495.7" x2="866.6" y2="497.0" stroke="#1a1a0a" stroke-width="3.6" stroke-linecap="round"/><line x1="864.4" y1="495.7" x2="866.6" y2="497.0" stroke="#dcdc96" stroke-width="2.4" stroke-linecap="round"/><line x1="868.4" y1="498.0" x2="870.6" y2="499.3" stroke="#1a1a0a" stroke-width="3.6" stroke-linecap="round"/><line x1="868.4" y1="498.0" x2="870.6" y2="499.3" stroke="#dcdc96" stroke-width="2.4" stroke-linecap="round"/><line x1="872.4" y1="500.3" x2="874.6" y2="501.6" stroke="#1a1a0a" stroke-width="3.6" stroke-linecap="round"/><line x1="872.4" y1="500.3" x2="874.6" y2="501.6" stroke="#dcdc96" stroke-width="2.4" stroke-linecap="round"/><ellipse cx="863.6" cy="488.4" rx="1.6" ry="1.3" fill="#14140a" transform="rotate(0 863.6 488.4)"/><ellipse cx="873.6" cy="494.2" rx="1.6" ry="1.3" fill="#14140a" transform="rotate(0 873.6 494.2)"/><ellipse cx="858.0" cy="496.6" rx="1.7" ry="1.2" fill="#14140a" transform="rotate(20 858.0 496.6)"/><ellipse cx="869.2" cy="502.4" rx="1.7" ry="1.2" fill="#14140a" transform="rotate(20 869.2 502.4)"/>
<ellipse cx="607.0" cy="327.7" rx="2.0" ry="1.5" fill="#14140a" transform="rotate(-60 607.0 327.7)"/>
<ellipse cx="657.7" cy="297.7" rx="2.0" ry="1.5" fill="#14140a" transform="rotate(-60 657.7 297.7)"/>
<ellipse cx="710.0" cy="268.2" rx="2.0" ry="1.5" fill="#14140a" transform="rotate(-60 710.0 268.2)"/>
<ellipse cx="761.5" cy="238.8" rx="2.0" ry="1.5" fill="#14140a" transform="rotate(-60 761.5 238.8)"/>
<ellipse cx="772.3" cy="245.0" rx="1.7" ry="1.9" fill="#14140a" transform="rotate(0 772.3 245.0)"/>
<ellipse cx="815.0" cy="328.8" rx="1.7" ry="1.9" fill="#14140a" transform="rotate(0 815.0 328.8)"/>
<ellipse cx="858.8" cy="413.8" rx="1.7" ry="1.9" fill="#14140a" transform="rotate(0 858.8 413.8)"/>
<ellipse cx="902.2" cy="497.2" rx="1.7" ry="1.9" fill="#14140a" transform="rotate(0 902.2 497.2)"/>
<ellipse cx="610.4" cy="342.0" rx="1.9" ry="1.6" fill="#14140a" transform="rotate(-60 610.4 342.0)"/>
<ellipse cx="663.5" cy="372.6" rx="1.9" ry="1.6" fill="#14140a" transform="rotate(-60 663.5 372.6)"/>
<ellipse cx="753.5" cy="424.3" rx="1.9" ry="1.6" fill="#14140a" transform="rotate(-60 753.5 424.3)"/>
<ellipse cx="843.8" cy="476.2" rx="1.9" ry="1.6" fill="#14140a" transform="rotate(-60 843.8 476.2)"/>
<ellipse cx="897.0" cy="507.0" rx="1.9" ry="1.6" fill="#14140a" transform="rotate(-60 897.0 507.0)"/>
<ellipse cx="604.6" cy="349.5" rx="2.3" ry="1.4" fill="#14140a" transform="rotate(15 604.6 349.5)"/>
<ellipse cx="658.8" cy="380.5" rx="2.3" ry="1.4" fill="#14140a" transform="rotate(15 658.8 380.5)"/>
<ellipse cx="748.4" cy="432.3" rx="2.3" ry="1.4" fill="#14140a" transform="rotate(15 748.4 432.3)"/>
<ellipse cx="838.8" cy="484.0" rx="2.3" ry="1.4" fill="#14140a" transform="rotate(15 838.8 484.0)"/>
<ellipse cx="892.3" cy="515.0" rx="2.3" ry="1.4" fill="#14140a" transform="rotate(15 892.3 515.0)"/>
<ellipse cx="591.4" cy="353.5" rx="2.4" ry="1.5" fill="#14140a" transform="rotate(0 591.4 353.5)"/>
<ellipse cx="591.4" cy="407.7" rx="2.4" ry="1.5" fill="#14140a" transform="rotate(0 591.4 407.7)"/>
<ellipse cx="591.4" cy="463.0" rx="2.4" ry="1.5" fill="#14140a" transform="rotate(0 591.4 463.0)"/>
<ellipse cx="591.4" cy="517.3" rx="2.4" ry="1.5" fill="#14140a" transform="rotate(0 591.4 517.3)"/>
<ellipse cx="602.3" cy="523.8" rx="2.0" ry="1.7" fill="#14140a" transform="rotate(0 602.3 523.8)"/>
<ellipse cx="695.8" cy="523.8" rx="2.0" ry="1.7" fill="#14140a" transform="rotate(0 695.8 523.8)"/>
<ellipse cx="792.6" cy="523.8" rx="2.0" ry="1.7" fill="#14140a" transform="rotate(0 792.6 523.8)"/>
<ellipse cx="885.4" cy="523.8" rx="2.0" ry="1.7" fill="#14140a" transform="rotate(0 885.4 523.8)"/>
<path d="M591.1,317.8 A48.3,48.3 0 1 1 577.8,336.2" fill="none" stroke="#222" stroke-width="0.9" stroke-dasharray="13 2.4 3 2.4"/>
<polygon points="589.9,319.0 593.6,314.6 595.3,317.1" fill="#111"/>
<polygon points="578.2,334.6 578.1,340.3 575.2,339.4" fill="#111"/>
<text x="584.3" y="331.0" font-size="11.3" fill="#111" text-anchor="middle" style="white-space:pre" stroke="#111" stroke-width="0.15">B</text>
<line x1="755.8" y1="303.8" x2="873.0" y2="303.8" stroke="#5a5a5a" stroke-width="0.55"/>
<circle cx="755.6" cy="303.8" r="0.9" fill="#222"/>
<text x="875.0" y="306.4" font-size="7.5" fill="#383838" text-anchor="start" style="white-space:pre">Space behind glass</text>
<text x="875.0" y="314.6" font-size="7.5" fill="#383838" text-anchor="start" style="white-space:pre">for military pins, etc.</text>
<path d="M875,341.6 H872.6 L652.4,452.6" fill="none" stroke="#5a5a5a" stroke-width="0.55"/>
<polygon points="650.6,453.5 654.2,450.6 655.1,452.4" fill="#111"/>
<text x="876.2" y="344.2" font-size="7.5" fill="#383838" text-anchor="start" style="white-space:pre">Space below glass for</text>
<text x="876.2" y="352.6" font-size="7.5" fill="#383838" text-anchor="start" style="white-space:pre">folded flag.</text>
<line x1="480.0" y1="618.3" x2="993.3" y2="618.3" stroke="#e4e4e4" stroke-width="0.5"/>
<line x1="480.0" y1="620.8" x2="993.3" y2="620.8" stroke="#e4e4e4" stroke-width="0.5"/>
<line x1="480.0" y1="623.3" x2="993.3" y2="623.3" stroke="#e4e4e4" stroke-width="0.5"/>
<line x1="480.0" y1="625.8" x2="993.3" y2="625.8" stroke="#e4e4e4" stroke-width="0.5"/>
<line x1="480.0" y1="628.3" x2="993.3" y2="628.3" stroke="#e4e4e4" stroke-width="0.5"/>
<line x1="480.0" y1="615.8" x2="993.3" y2="615.8" stroke="#c6c6c6" stroke-width="0.8"/>
<line x1="480.0" y1="615.8" x2="480.0" y2="630.7" stroke="#c6c6c6" stroke-width="0.8"/>
<line x1="600.5" y1="615.8" x2="600.5" y2="630.7" stroke="#c6c6c6" stroke-width="0.8"/>
<line x1="781.4" y1="615.8" x2="781.4" y2="630.7" stroke="#c6c6c6" stroke-width="0.8"/>
<line x1="917.8" y1="615.8" x2="917.8" y2="630.7" stroke="#c6c6c6" stroke-width="0.8"/>
<line x1="963.0" y1="615.8" x2="963.0" y2="630.7" stroke="#c6c6c6" stroke-width="0.8"/>
<rect x="922.0" y="619.0" width="36.5" height="10.0" fill="#fff"/>
<rect x="973.0" y="619.0" width="11.0" height="10.0" fill="#fff"/>
<text x="540.3" y="627.6" font-size="10" fill="#111" text-anchor="middle" style="white-space:pre" stroke="#111" stroke-width="0.1">WS20118</text>
<text x="691.6" y="627.6" font-size="10" fill="#111" text-anchor="middle" style="white-space:pre" stroke="#111" stroke-width="0.1">CLASSIC FLAG CASE</text>
<text x="850.0" y="627.6" font-size="10" fill="#111" text-anchor="middle" style="white-space:pre" stroke="#111" stroke-width="0.1">WoodsmithPlans.com</text>
<text x="940.3" y="627.6" font-size="10" fill="#111" text-anchor="middle" style="white-space:pre" stroke="#111" stroke-width="0.1">2/28/19</text>
<text x="978.3" y="627.6" font-size="10" fill="#111" text-anchor="middle" style="white-space:pre" stroke="#111" stroke-width="0.1">2</text>
<text x="918.6" y="618.4" font-size="2.8" fill="#555" text-anchor="start" style="white-space:pre">DATE</text>
<text x="963.6" y="618.4" font-size="2.8" fill="#555" text-anchor="start" style="white-space:pre">SHEET</text>
</svg>
</body></html>
